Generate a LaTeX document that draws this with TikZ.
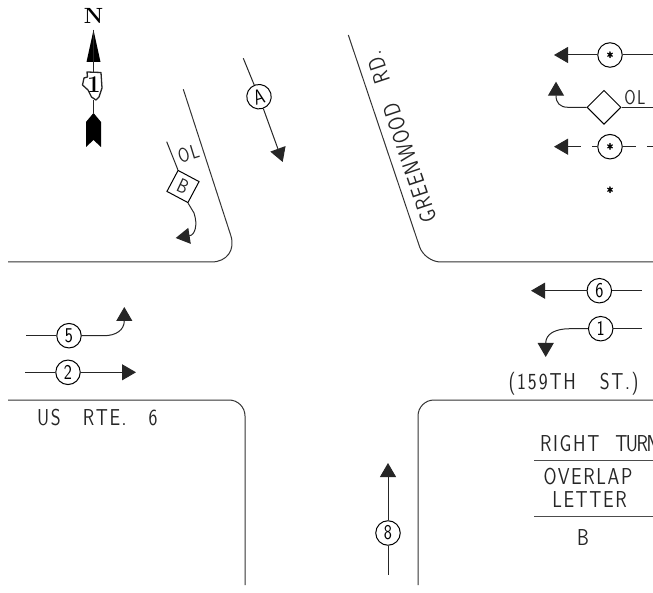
\documentclass[tikz,border=0pt]{standalone}
\usepackage{xcolor}
\usepackage{fontspec}
\usepackage{tikz}
\usetikzlibrary{calc}
\usetikzlibrary{arrows.meta}
\usetikzlibrary{shapes.geometric}
\newfontfamily\cadfont[FakeStretch=0.82,LetterSpace=7]{Latin Modern Sans}
\newfontfamily\starfont[FakeBold=2.5]{Latin Modern Sans}

\begin{document}
\begin{tikzpicture}[x=1pt,y=-1pt]

    \tikzstyle{road}=[line width=1pt,color=black!80,rounded corners=16pt]
    \tikzstyle{rule}=[line width=1pt,color=black!70]
    \tikzstyle{vector}=[-{Triangle[length=14pt,width=16pt]},line width=1pt,color=black!85]
    \tikzstyle{plain}=[line width=1pt,color=black!85]
    \tikzstyle{phase}=[draw,circle,line width=1pt,fill=white,inner sep=0pt,minimum size=24.5pt,font=\cadfont\fontsize{21}{21}\selectfont]
    \tikzstyle{olap}=[draw,diamond,line width=1pt,fill=white,inner sep=0pt,minimum width=34pt,minimum height=34pt]
    \tikzstyle{cad}=[inner sep=0pt,color=black!85,font=\cadfont\fontsize{23}{23}\selectfont]
    \tikzstyle{star}=[inner sep=0pt,font=\starfont\fontsize{15}{15}\selectfont]

    \useasboundingbox (0,0) rectangle (653,593);
    \clip (0,0) rectangle (653,593);

    % Draw north arrow
    \node[inner sep=0pt,font=\bfseries\fontsize{22}{22}\selectfont] (north) at (93.5,15.5) {N};
    \coordinate (ntop) at (93.5,30);
    \coordinate (ntail) at (93.5,113);
    \node[inner sep=0pt,minimum width=10pt,minimum height=28pt] (state) at (92,86) {};
    \fill (93.5,30) -- (100.5,62) -- (86.5,62) -- cycle;
    \fill (93.5,113) -- (101,122) -- (101,147) -- (93.5,140) -- (86,147) -- (86,122) -- cycle;
    \draw[plain] (ntop) -- (state.north -| ntop);
    \draw[plain] (state.south -| ntop) -- (ntail);
    \draw[plain,line width=1.3pt,fill=white,line join=round] (87,72) -- (101,72.5) -- (102,88) -- (99,97)
        -- (96,100) -- (91.5,97) -- (88,90) -- (82.5,85) -- (84,78) -- (87.5,77) -- cycle;
    \node[inner sep=0pt,font=\bfseries\fontsize{24}{24}\selectfont] (route) at (94,85) {1};

    % Draw street edges
    \draw[style=road,rounded corners=28pt] (183.3,89.3) -- (239.4,262) -- (8,262);
    \draw[style=road] (348.3,35) -- (424.7,262) -- (653,262);
    \draw[style=road] (8,400) -- (245,400) -- (245,585);
    \draw[style=road] (418,585) -- (418,400) -- (653,400);

    % Draw phase 4 and overlap B
    \node[style=phase,rotate=17] (p4) at (259,96.7) {A};
    \coordinate (p4top) at (243.3,58.3);
    \coordinate (p4tip) at (282.7,162);
    \draw[style=plain] (p4top) -- (p4);
    \draw[style=vector] (p4) -- (p4tip);
    \node[style=olap,rotate=17] (olB) at (183,186.5) {};
    \node[style=cad,rotate=-25,font=\cadfont\fontsize{20}{20}\selectfont] (olBtext) at (183,186.5) {B};
    \coordinate (olBtop) at (166.7,141.7);
    \coordinate (olBtip) at (175.7,238);
    \draw[style=plain] (olBtop) -- (olB.north);
    \draw[style=vector] (olB.south) -- (194,213) .. controls (198,225) and (195,235) .. (olBtip);
    \node[style=cad,rotate=17,font=\cadfont\fontsize{20}{20}\selectfont] (oltext) at (188.5,154) {OL};

    % Draw westbound phases on the east leg
    \node[style=phase] (pa) at (610,55) {};
    \node[style=star] (pastar) at (610,55) {\textasteriskcentered};
    \coordinate (paend) at (653,55);
    \coordinate (patip) at (554,55);
    \draw[style=plain] (pa) -- (paend);
    \draw[style=vector] (pa) -- (patip);

    \node[style=olap] (olr) at (604,107.3) {};
    \coordinate (olrend) at (653,107.3);
    \coordinate (olrtip) at (556,81.7);
    \draw[style=plain] (olr) -- (olrend);
    \draw[style=vector] (olr.west) -- (568,107.3) .. controls (560,107.3) and (556,103) .. (olrtip);
    \node[style=cad,font=\cadfont\fontsize{20}{20}\selectfont] (olrtext) at (635,98) {OL};

    \node[style=phase] (pb) at (610,146.7) {};
    \node[style=star] (pbstar) at (610,146.7) {\textasteriskcentered};
    \coordinate (pbend) at (653,146.7);
    \coordinate (pbtip) at (554,146.7);
    \draw[style=plain,dash pattern=on 13pt off 11pt on 10pt] (pb.east) -- (pbend);
    \draw[style=vector,dash pattern=on 5.5pt off 11pt on 30pt] (pb.west) -- (pbtip);
    \node[style=star] (star) at (610,190) {\textasteriskcentered};

    \node[style=phase] (p6) at (599.3,290.7) {6};
    \coordinate (p6end) at (642,290.7);
    \coordinate (p6tip) at (531,290.7);
    \draw[style=plain] (p6) -- (p6end);
    \draw[style=vector] (p6) -- (p6tip);

    \node[style=phase] (p1) at (600.7,328.7) {1};
    \coordinate (p1end) at (642,328.7);
    \coordinate (p1tip) at (545.7,357);
    \draw[style=plain] (p1) -- (p1end);
    \draw[style=vector] (p1) -- (570,328.7) .. controls (555,328.7) and (545.7,334) .. (p1tip);

    % Draw eastbound phases on the west leg
    \node[style=phase] (p5) at (69,335.7) {5};
    \coordinate (p5end) at (26,335.7);
    \coordinate (p5tip) at (124.3,307);
    \draw[style=plain] (p5) -- (p5end);
    \draw[style=vector] (p5) -- (104,335.7) .. controls (116,335.7) and (124.3,330) .. (p5tip);

    \node[style=phase] (p2) at (68,372.3) {2};
    \coordinate (p2end) at (25,372.3);
    \coordinate (p2tip) at (136,372.3);
    \draw[style=plain] (p2) -- (p2end);
    \draw[style=vector] (p2) -- (p2tip);

    % Draw northbound phase
    \node[style=phase] (p8) at (388,533) {8};
    \coordinate (p8end) at (388,575);
    \coordinate (p8tip) at (388,463);
    \draw[style=plain] (p8) -- (p8end);
    \draw[style=vector] (p8) -- (p8tip);

    % Draw street names
    \node[style=cad,rotate=108.5] (green) at (401,137) {GREENWOOD\hspace{22pt}RD.};
    \node[style=cad,anchor=west] (us6) at (37,417.7) {US\hspace{22pt}RTE.\hspace{22pt}6};
    \node[style=cad] (st159) at (573.5,384) {(1\kern2pt5\kern2pt9\kern2pt TH\hspace{24pt}ST.)};

    % Draw table
    \node[style=cad,anchor=west] (turn) at (540,444) {RIGHT\hspace{16pt}T\kern-1.5pt U\kern-1.5pt R\kern-1.5pt N};
    \node[style=cad] (overlap) at (588,476.7) {OVERLAP};
    \node[style=cad] (letter) at (589.5,500) {LETTER};
    \node[style=cad] (bval) at (583,538) {B};
    \coordinate (rule1a) at (534,460.7);
    \coordinate (rule1b) at (653,460.7);
    \coordinate (rule2a) at (534,516);
    \coordinate (rule2b) at (653,516);
    \draw[style=rule] (rule1a) -- (rule1b);
    \draw[style=rule] (rule2a) -- (rule2b);

\end{tikzpicture}
\end{document}
